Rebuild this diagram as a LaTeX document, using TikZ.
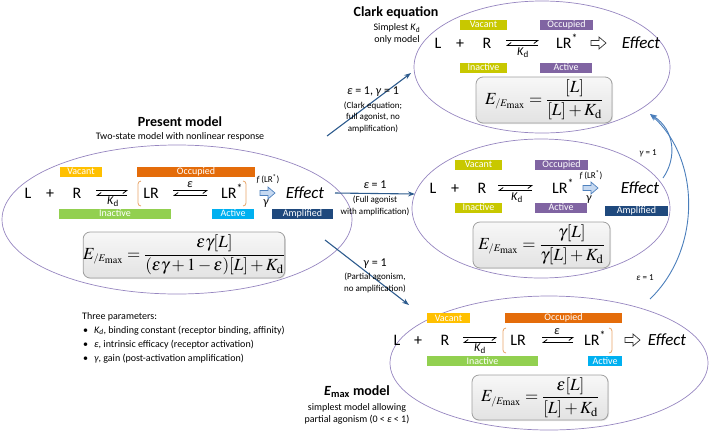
\documentclass[tikz,border=0pt]{standalone}
\usepackage{mathptmx}
\usepackage[no-math]{fontspec}
\setmainfont{Carlito}
\usetikzlibrary{arrows.meta,shapes.geometric,shadows}
\definecolor{ellc}{HTML}{9686C0}
\definecolor{cvac}{HTML}{FFC000}
\definecolor{cocc}{HTML}{E46C0A}
\definecolor{cina}{HTML}{92D050}
\definecolor{cact}{HTML}{00B0F0}
\definecolor{camp}{HTML}{1F497D}
\definecolor{colive}{HTML}{C8C800}
\definecolor{cpurp}{HTML}{8064A2}
\definecolor{arrc}{HTML}{2E5C8E}
\definecolor{curvc}{HTML}{4A7EBB}
\definecolor{brkc}{HTML}{E8A468}
\definecolor{hafill}{HTML}{C6D9F1}
\definecolor{haline}{HTML}{4F81BD}
\newcommand{\hollowarr}[3]{\draw[#3,line width=0.7pt,line join=miter] (#1-7,#2-2.5) -- (#1+1,#2-2.5) -- (#1+1,#2-6) -- (#1+8,#2) -- (#1+1,#2+6) -- (#1+1,#2+2.5) -- (#1-7,#2+2.5) -- cycle;}
\newcommand{\equilarr}[3]{\draw[harp] (#1,#3-2.5) -- (#2,#3-2.5); \draw[harp] (#2-1,#3+2.5) -- (#1,#3+2.5);}
\newcommand{\lbrk}[3]{\draw[brkc,line width=0.8pt,rounded corners=3pt] (#1+3,#2) -- (#1,#2) -- (#1,#3) -- (#1+3,#3);}
\newcommand{\rbrk}[3]{\draw[brkc,line width=0.8pt,rounded corners=3pt] (#1-3,#2) -- (#1,#2) -- (#1,#3) -- (#1-3,#3);}
\newcommand{\Dfr}[2]{{\displaystyle\frac{#1}{#2}}}
\newcommand{\Eratio}{E_{\scriptscriptstyle /E_{\max}}}
\begin{document}
\begin{tikzpicture}[x=1pt,y=-1pt,
  ell/.style={ellipse,draw=ellc,line width=0.7pt,inner sep=0pt},
  tag/.style={text=white,font=\fontsize{10}{10}\selectfont,inner sep=0pt,minimum height=10pt},
  rowt/.style={font=\fontsize{16}{18}\selectfont,inner sep=0pt,anchor=base},
  efft/.style={font=\fontsize{17}{19}\selectfont\itshape,inner sep=0pt},
  kdt/.style={font=\fontsize{12}{13}\selectfont,inner sep=0pt},
  smt/.style={font=\fontsize{9}{10}\selectfont,inner sep=0pt},
  eqbox/.style={draw=gray!75,line width=0.8pt,rounded corners=7pt,top color=gray!6,bottom color=gray!22,
     drop shadow={opacity=0.2,shadow xshift=1pt,shadow yshift=-1pt},inner sep=0pt,font=\fontsize{17}{20}\selectfont},
  harp/.style={-{Straight Barb[harpoon,swap,length=4pt,width=6pt]},line width=0.8pt},
  conn/.style={draw=arrc,line width=1.1pt,-{Stealth[length=7pt,width=5pt]}},
  curv/.style={draw=curvc,line width=0.9pt,-{Stealth[length=7pt,width=5pt]}},
  ttl/.style={font=\fontsize{14}{16}\selectfont\bfseries,inner sep=0pt},
  sub/.style={font=\fontsize{10}{12}\selectfont,inner sep=0pt,align=center},
  lab/.style={font=\fontsize{12}{13}\selectfont,inner sep=0pt},
  par/.style={font=\fontsize{9}{11.5}\selectfont,inner sep=0pt,align=center}
]
\useasboundingbox (0,0) rectangle (709,432);

% ---------- ellipses ----------
\node[ell,minimum width=350pt,minimum height=149pt] (epres) at (177,219.5) {};
\node[ell,minimum width=256pt,minimum height=132pt] (eclark) at (542,67) {};
\node[ell,minimum width=258pt,minimum height=139pt] (emid) at (541,208.5) {};
\node[ell,minimum width=318pt,minimum height=134pt] (emax) at (549,363) {};

% ---------- Present model ----------
\node[ttl] (tpres) at (180,122) {Present model};
\node[sub] (spres) at (180,137) {Two-state model with nonlinear response};
\node[tag,fill=cvac,minimum width=42pt] (pvac) at (81,171.5) {Vacant};
\node[tag,fill=cocc,minimum width=118pt] (pocc) at (196,171.5) {Occupied};
\node[tag,fill=cina,minimum width=112pt] (pina) at (115,213.5) {Inactive};
\node[tag,fill=cact,minimum width=42pt] (pact) at (233,213.5) {Active};
\node[tag,fill=camp,minimum width=61pt] (pamp) at (302.5,213.5) {Amplified};
\node[rowt] (pL) at (28,198.5) {L};
\node[rowt] (pplus) at (50,198.5) {+};
\node[rowt] (pR) at (77,198.5) {R};
\equilarr{96}{128}{193}
\node[kdt] (pKd) at (113,202) {\textit{K}\textsubscript{d}};
\lbrk{138}{181}{206}
\node[rowt] (pLR) at (151,198.5) {LR};
\equilarr{173}{208}{193}
\node[kdt] (peps) at (190,185) {\textit{ε}};
\node[rowt] (pLRs) at (232,198.5) {LR\textsuperscript{*}};
\rbrk{246}{181}{206}
\hollowarr{267}{193}{draw=haline,fill=hafill}
\node[smt] (pf) at (268,179) {\textit{f}\,(LR\textsuperscript{*})};
\node[kdt] (pgam) at (266,204) {\textit{γ}};
\node[efft] (peff) at (305,193) {Effect};
\node[eqbox,minimum width=192pt,minimum height=46pt] (peq) at (184,255)
  {$\Eratio=\Dfr{\varepsilon\gamma[L]}{(\varepsilon\gamma+1-\varepsilon)[L]+K_{\mathrm{d}}}$};

% ---------- parameters ----------
\node[font=\fontsize{10}{14}\selectfont,inner sep=0pt,anchor=north west,align=left] (params) at (82,312)
  {Three parameters:\\
   \hspace*{1pt}•\hspace{6pt}\textit{K\textsubscript{d}}, binding constant (receptor binding, affinity)\\
   \hspace*{1pt}•\hspace{6pt}\textit{ε}, intrinsic efficacy (receptor activation)\\
   \hspace*{1pt}•\hspace{6pt}\textit{γ}, gain (post-activation amplification)};

% ---------- Clark ----------
\node[ttl] (tclark) at (396,13) {Clark equation};
\node[sub] (sclark) at (397,34) {Simplest \textit{K}\textsubscript{d}\\only model};
\node[tag,fill=colive,minimum width=47pt] (cvac) at (483.5,24.5) {Vacant};
\node[tag,fill=cpurp,minimum width=53pt] (cocc) at (566.5,24.5) {Occupied};
\node[tag,fill=colive,minimum width=47pt] (cina) at (483.5,67.5) {Inactive};
\node[tag,fill=cpurp,minimum width=52pt] (cact) at (566,67.5) {Active};
\node[rowt] (cL) at (438,48.5) {L};
\node[rowt] (cplus) at (460,48.5) {+};
\node[rowt] (cR) at (487,48.5) {R};
\equilarr{506}{539}{43}
\node[kdt] (cKd) at (523,53) {\textit{K}\textsubscript{d}};
\node[rowt] (cLRs) at (567,48.5) {LR\textsuperscript{*}};
\hollowarr{598}{43}{draw=black!80,fill=white}
\node[efft] (ceff) at (641,43) {Effect};
\node[eqbox,minimum width=136pt,minimum height=46pt] (ceq) at (544,100)
  {$\Eratio=\Dfr{[L]}{[L]+K_{\mathrm{d}}}$};

% ---------- middle ----------
\node[tag,fill=colive,minimum width=47pt] (mvac) at (478.5,164.5) {Vacant};
\node[tag,fill=cpurp,minimum width=53pt] (mocc) at (561.5,164.5) {Occupied};
\node[tag,fill=colive,minimum width=47pt] (mina) at (478.5,207.5) {Inactive};
\node[tag,fill=cpurp,minimum width=52pt] (mact) at (561,207.5) {Active};
\node[tag,fill=camp,minimum width=63pt] (mamp) at (636.5,210.5) {Amplified};
\node[rowt] (mL) at (433,193.5) {L};
\node[rowt] (mplus) at (455,193.5) {+};
\node[rowt] (mR) at (482,193.5) {R};
\equilarr{498}{533}{188}
\node[kdt] (mKd) at (517,198) {\textit{K}\textsubscript{d}};
\node[rowt] (mLRs) at (563,193.5) {LR\textsuperscript{*}};
\hollowarr{590}{188}{draw=haline,fill=hafill}
\node[smt] (mf) at (591,175) {\textit{f}\,(LR\textsuperscript{*})};
\node[kdt] (mgam) at (589,200) {\textit{γ}};
\node[efft] (meff) at (640,188) {Effect};
\node[eqbox,minimum width=137pt,minimum height=46pt] (meq) at (541.5,245)
  {$\Eratio=\Dfr{\gamma[L]}{\gamma[L]+K_{\mathrm{d}}}$};

% ---------- Emax ----------
\node[tag,fill=cvac,minimum width=43pt] (bvac) at (448.5,318) {Vacant};
\node[tag,fill=cocc,minimum width=117pt] (bocc) at (563.5,318) {Occupied};
\node[tag,fill=cina,minimum width=111pt] (bina) at (482.5,361) {Inactive};
\node[tag,fill=cact,minimum width=34pt] (bact) at (605,361) {Active};
\node[rowt] (bL) at (397,345.5) {L};
\node[rowt] (bplus) at (418,345.5) {+};
\node[rowt] (bR) at (445,345.5) {R};
\equilarr{463}{497}{340}
\node[kdt] (bKd) at (480,349) {\textit{K}\textsubscript{d}};
\lbrk{503}{328}{353}
\node[rowt] (bLR) at (518,345.5) {LR};
\equilarr{542}{574}{340}
\node[kdt] (beps) at (557,332) {\textit{ε}};
\node[rowt] (bLRs) at (595,345.5) {LR\textsuperscript{*}};
\rbrk{612}{328}{353}
\hollowarr{632}{340}{draw=black!80,fill=white}
\node[efft] (beff) at (667,340) {Effect};
\node[eqbox,minimum width=136pt,minimum height=45pt] (beq) at (540,397.5)
  {$\Eratio=\Dfr{\varepsilon[L]}{[L]+K_{\mathrm{d}}}$};
\node[ttl] (tmax) at (357,392) {\textit{E}\textsubscript{max} model};
\node[sub] (smax) at (357,414) {simplest model allowing\\partial agonism (0 < \textit{ε} < 1)};

% ---------- connectors ----------
\coordinate (a1s) at (327,136); \coordinate (a1e) at (411,73);
\coordinate (a2s) at (335,193); \coordinate (a2e) at (415,194);
\coordinate (a3s) at (325,240); \coordinate (a3e) at (409,305);
\draw[conn] (a1s) -- (a1e);
\draw[conn] (a2s) -- (a2e);
\draw[conn] (a3s) -- (a3e);
\node[lab] (l1) at (373,92) {\textit{ε} = 1, \textit{γ} = 1};
\node[par] (p1) at (373,117) {(Clark equation;\\full agonist, no\\amplification)};
\node[lab] (l2) at (375,185) {\textit{ε} = 1};
\node[par] (p2) at (375,206) {(Full agonist\\with amplification)};
\node[lab] (l3) at (375,264) {\textit{γ} = 1};
\node[par] (p3) at (375,283) {(Partial agonism,\\no amplification)};

\coordinate (c1s) at (663,178); \coordinate (c2s) at (650,299); \coordinate (ce) at (650,114);
\draw[curv] (c1s) .. controls (677,158) and (675,130) .. (ce);
\draw[curv] (c2s) .. controls (701,250) and (701,160) .. (ce);
\node[smt] (lc1) at (648,153) {\textit{γ} = 1};
\node[smt] (lc2) at (645,278) {\textit{ε} = 1};
\end{tikzpicture}
\end{document}
